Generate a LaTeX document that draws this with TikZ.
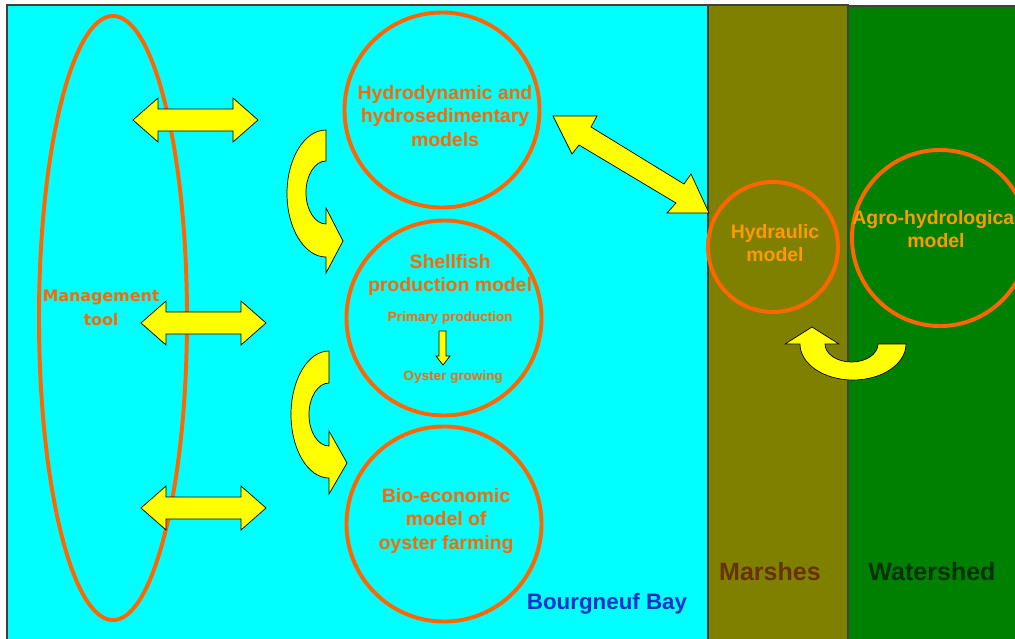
\documentclass[tikz,border=0pt]{standalone}
\usepackage{fontspec}
\setmainfont{Liberation Sans}
\newfontfamily\toolfont{DejaVu Sans}
\usetikzlibrary{shapes.geometric}
\usepackage{xcolor}
\definecolor{BayBlue}{HTML}{00FFFF}
\definecolor{MarshOlive}{HTML}{808000}
\definecolor{ShedGreen}{HTML}{008000}
\definecolor{Orange}{HTML}{FF6600}
\definecolor{LightOrange}{HTML}{FF9900}
\definecolor{BayText}{HTML}{0033CC}
\definecolor{MarshText}{HTML}{663300}
\definecolor{ShedText}{HTML}{003300}
\definecolor{ArrowYellow}{HTML}{FFFF00}

\tikzset{
  model/.style={circle,draw=Orange,line width=2.8pt,inner sep=0pt},
  zone/.style={draw=black!75,line width=1pt},
  blockarrow/.style={fill=ArrowYellow,draw=black,line width=0.5pt,line join=miter},
  title/.style={font=\fontsize{13.8}{16.7}\selectfont\bfseries,text=Orange,align=center,inner sep=0pt},
  subtitle/.style={font=\fontsize{9.6}{11}\selectfont\bfseries,text=Orange,inner sep=0pt},
  place/.style={font=\fontsize{17.8}{20}\selectfont\bfseries,inner sep=0pt}
}

\begin{document}
\begin{tikzpicture}[x=0.025cm,y=-0.025cm]
    \useasboundingbox (0,0) rectangle (1015,639);
    \clip (0,0) rectangle (1015,639);
    \fill[white] (0,0) rectangle (1015,639);
    % zones
    \filldraw[zone,fill=BayBlue]    (7,5)   rectangle (708,650);
    \filldraw[zone,fill=MarshOlive] (708,5) rectangle (848,650);
    \filldraw[zone,fill=ShedGreen]  (848,6) rectangle (1030,650);
    % models
    \node[ellipse,draw=Orange,line width=2.8pt,minimum width=3.7cm,minimum height=15.1cm] (tool) at (113,318) {};
    \node[model,minimum size=4.875cm] (hydro)     at (442,110) {};
    \node[model,minimum size=4.875cm] (shellfish) at (444,318) {};
    \node[model,minimum size=4.875cm] (bioeco)    at (444,524) {};
    \node[model,minimum size=3.25cm]  (hydraulic) at (773,247) {};
    \node[model,minimum size=4.4cm]   (agro)      at (940,238) {};
    % arrows to the management tool
    \foreach \xa/\ya in {133/120,141/323,141/508}
      \filldraw[blockarrow] (\xa,\ya) -- ++(25,-22) -- ++(0,11) -- ++(75,0) -- ++(0,-11)
        -- ++(25,22) -- ++(-25,22) -- ++(0,-11) -- ++(-75,0) -- ++(0,11) -- cycle;
    % curved arrows between bay models
    \filldraw[blockarrow] (326,130) arc[start angle=270,end angle=90,x radius=39,y radius=63.5]
      -- (326,273) -- (343,241) -- (326,208) -- (326,224)
      arc[start angle=90,end angle=270,x radius=20,y radius=31.5] -- cycle;
    \filldraw[blockarrow] (329,351) arc[start angle=270,end angle=90,x radius=38,y radius=63.5]
      -- (329,494) -- (347,463) -- (329,431) -- (329,446)
      arc[start angle=90,end angle=270,x radius=20,y radius=31.5] -- cycle;
    % watershed to marshes
    \filldraw[blockarrow] (906,344) arc[start angle=0,end angle=180,x radius=53,y radius=36]
      -- (785,344) -- (812,327) -- (839,344) -- (825,344)
      arc[start angle=180,end angle=0,x radius=26.5,y radius=18] -- cycle;
    % bay to marshes
    \filldraw[blockarrow] (553,116) -- (597,116) -- (591,127) -- (684,184) -- (691,174)
      -- (709,213) -- (667,213) -- (676,203) -- (579,145) -- (572,154) -- cycle;
    % texts
    \node[title] (hydrotxt) at (445,116) {Hydrodynamic and\\hydrosedimentary\\models};
    \node[title] (shelltxt) at (450,275) {Shellfish\\production model};
    \node[subtitle] (primary) at (450,318) {Primary production};
    \node[subtitle] (oyster)  at (453,377) {Oyster growing};
    \filldraw[blockarrow] (439,331) -- (446,331) -- (446,356) -- (450,356) -- (443,365)
      -- (436,356) -- (439,356) -- cycle;
    \node[title] (biotxt) at (446,521) {Bio-economic\\model of\\oyster farming};
    \node[font=\toolfont\fontsize{11.3}{17}\selectfont\bfseries,text=Orange,align=center,inner sep=0pt]
      (tooltxt) at (101,308) {Management\\tool};
    \node[title,text=LightOrange] (hydraulictxt) at (775,243) {Hydraulic\\model};
    \node[title,text=LightOrange] (agrotxt) at (936,229) {Agro-hydrological\\model};
    \node[place,text=MarshText] (marshes) at (770,572) {Marshes};
    \node[place,text=ShedText] (watershed) at (932,572) {Watershed};
    \node[place,font=\fontsize{15.9}{18}\selectfont\bfseries,text=BayText] (bay) at (607,604) {Bourgneuf Bay};
  \end{tikzpicture}
\end{document}
